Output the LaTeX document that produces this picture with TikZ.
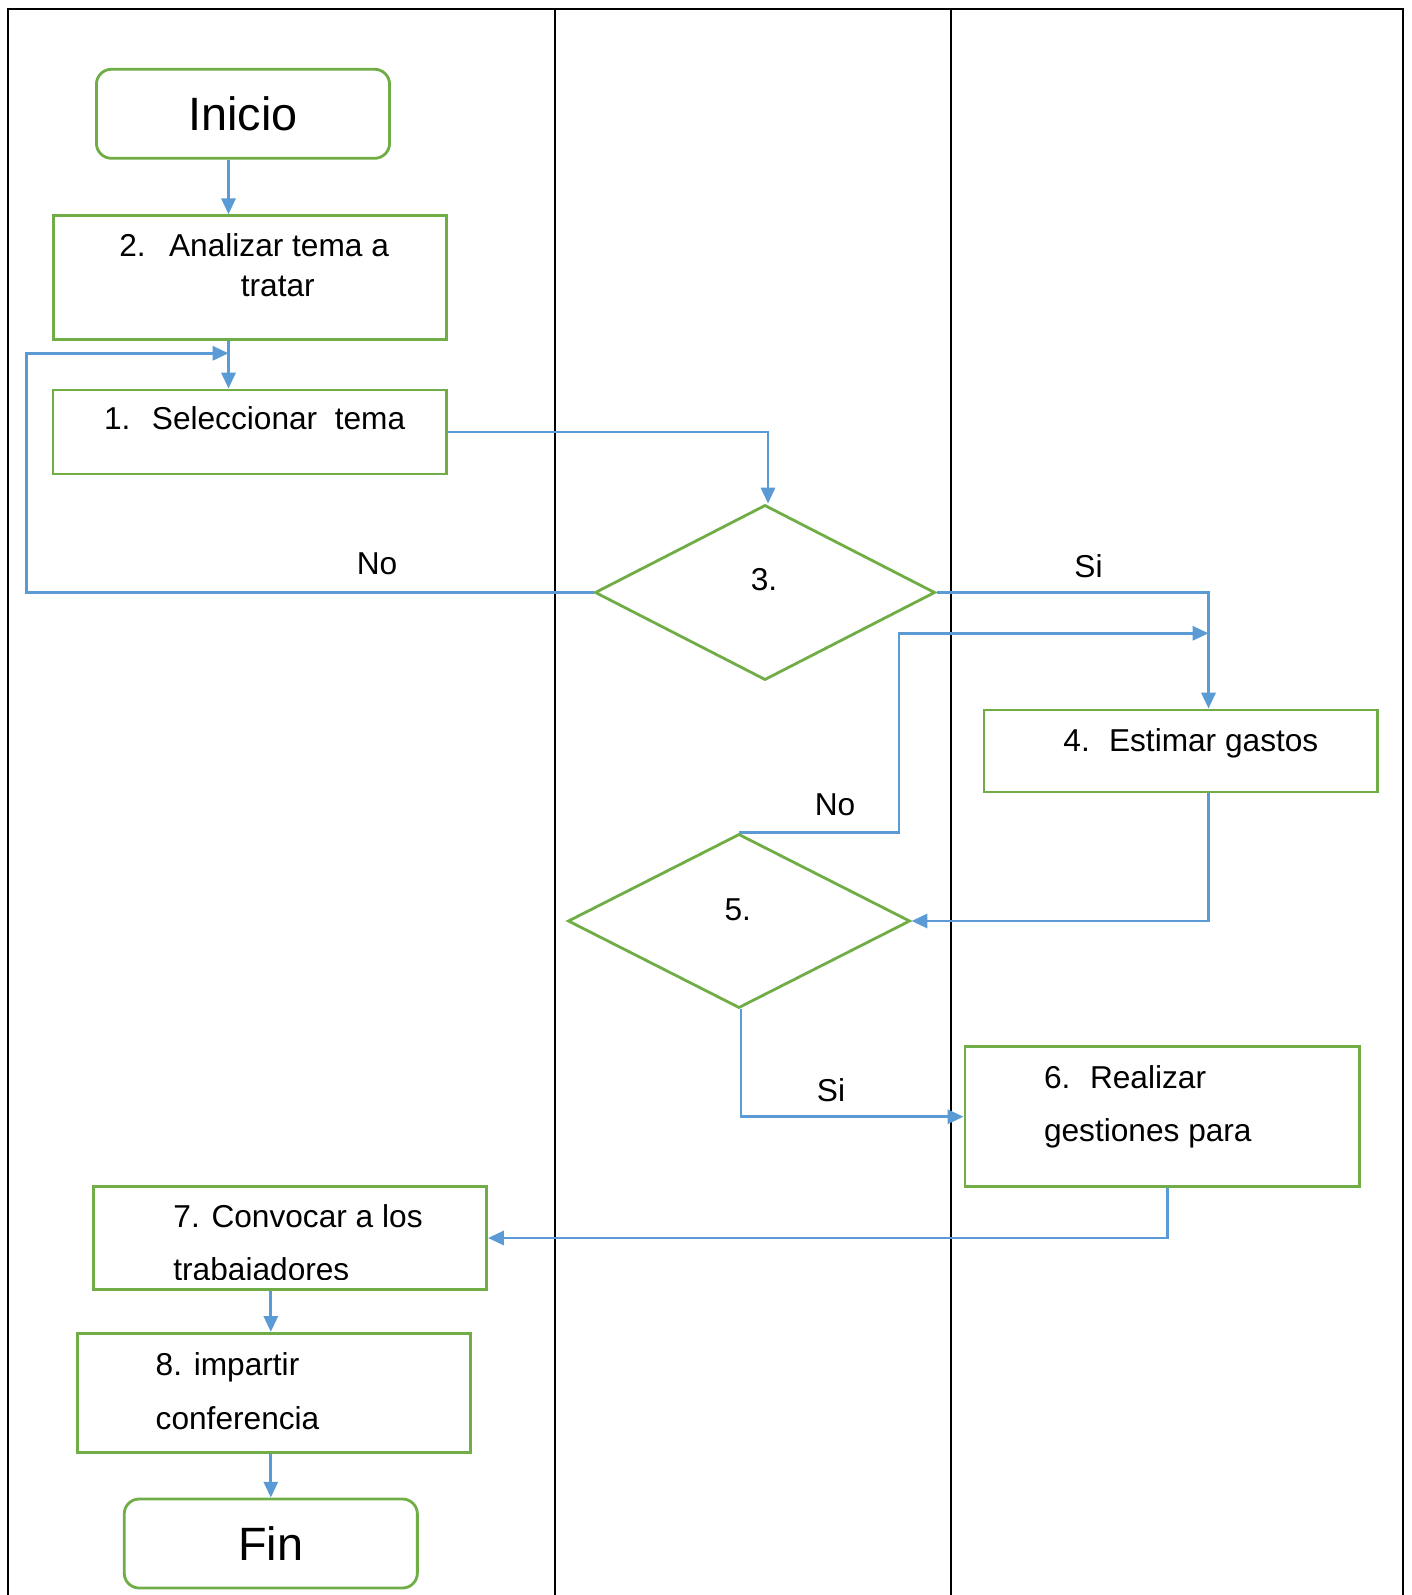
\documentclass[tikz,border=0pt]{standalone}
\usepackage{fontspec}
\setmainfont{Liberation Sans}
\usepackage{tikz}
\usetikzlibrary{arrows.meta, shapes.geometric}
\usepackage{xcolor}
\definecolor{boxgreen}{RGB}{112,173,71}
\definecolor{linkblue}{RGB}{91,155,213}

\tikzset{
  lane/.style={black, line width=0.7pt},
  stepbox/.style={draw=boxgreen, line width=0.8pt, rectangle, inner sep=0pt, minimum width=3.93cm},
  endbox/.style={stepbox, rounded corners=1.5mm, minimum width=2.93cm, minimum height=0.89cm, font=\fontsize{13.3}{16}\selectfont},
  decision/.style={draw=boxgreen, line width=0.8pt, diamond, inner sep=0pt},
  link/.style={draw=linkblue, line width=0.8pt, -{Triangle[length=4.5pt, width=4pt]}},
  txt/.style={inner sep=0pt, font=\fontsize{9}{11}\selectfont},
}

\begin{document}
\begin{tikzpicture}[x=0.01cm, y=-0.01cm]
  \useasboundingbox (0,0) rectangle (1411,1595);
  % swimlanes
  \draw[lane] (8,1596) -- (8,9) -- (1403,9) -- (1403,1596);
  \draw[lane] (555,9) -- (555,1596);
  \draw[lane] (951,9) -- (951,1596);

  % boxes and decisions
  \node[endbox] (inicio) at (243,113.8) {Inicio};
  \node[stepbox, minimum height=1.236cm] (analizar) at (250,277.5) {};
  \node[stepbox, minimum height=0.84cm] (seleccionar) at (249.7,432) {};
  \node[decision, minimum width=3.4cm, minimum height=1.75cm] (d3) at (765,592.5) {};
  \node[stepbox, minimum height=0.82cm] (estimar) at (1180.5,751) {};
  \node[decision, minimum width=3.42cm, minimum height=1.74cm] (d5) at (739,921) {};
  \node[stepbox, minimum width=3.94cm, minimum height=1.40cm] (gestiones) at (1162,1116.7) {};
  \node[stepbox, minimum height=1.026cm] (convocar) at (290,1238) {};
  \node[stepbox, minimum height=1.194cm] (impartir) at (274.2,1393) {};
  \node[endbox] (fin) at (270.8,1543.5) {Fin};

  % texts
  \node[txt, anchor=base west] (n2) at (118.6,256.7) {2.};
  \node[txt, anchor=base west] (t2a) at (168.4,256.7) {Analizar tema a};
  \node[txt, anchor=base] (t2b) at (277.8,296.7) {tratar};
  \node[txt, anchor=base west] (n1) at (103.3,430) {1.};
  \node[txt, anchor=base west] (t1) at (151.2,430) {Seleccionar\ \ tema};
  \node[txt] (t3) at (764,580) {3.};
  \node[txt, anchor=base west] (n4) at (1062.7,751.7) {4.};
  \node[txt, anchor=base west] (t4) at (1108.3,751.7) {Estimar gastos};
  \node[txt] (t5) at (737.7,910) {5.};
  \node[txt, anchor=base west] (n6) at (1043.3,1088) {6.};
  \node[txt, anchor=base west] (t6a) at (1089.3,1088) {Realizar};
  \node[txt, anchor=base west] (t6b) at (1043.3,1141.7) {gestiones para};
  \node[txt, anchor=base west] (t7a) at (172.7,1227.3) {7. Convocar a los};
  \begin{scope}
    \clip (93,1187) rectangle (487,1279.5);
    \node[txt, anchor=base west] (t7b) at (172.7,1280) {trabajadores};
  \end{scope}
  \node[txt, anchor=base west] (t8a) at (155,1375) {8. impartir};
  \node[txt, anchor=base west] (t8b) at (155,1429.3) {conferencia};

  % branch labels
  \node[txt] (no3) at (377,563.5) {No};
  \node[txt] (si3) at (1088.5,566.6) {Si};
  \node[txt] (no5) at (835,805) {No};
  \node[txt] (si5) at (831,1090.5) {Si};

  % connectors
  \coordinate (lanel) at (228.5,353.3);
  \coordinate (backl) at (26.8,353.3);
  \coordinate (laner) at (1208.5,633.3);
  \coordinate (backr) at (899,633.3);
  \draw[link] (inicio.south -| lanel) -- (analizar.north -| lanel);
  \draw[link] (analizar.south -| lanel) -- (seleccionar.north -| lanel);
  \draw[link] (d3.west) -| (backl) -- (lanel);
  \draw[link] (seleccionar.east) -| ([xshift=0.03cm]d3.north);
  \draw[link] (d3.east) -| (estimar.north -| laner);
  \draw[link] (estimar.south -| laner) |- (d5.east);
  \draw[link] (d5.north) -| (backr) -- (laner);
  \draw[link] ([xshift=0.02cm]d5.south) |- (gestiones.west);
  \draw[link] ([xshift=0.053cm]gestiones.south) |- (convocar.east);
  \draw[link] (convocar.south -| fin.north) -- (impartir.north -| fin.north);
  \draw[link] (impartir.south -| fin.north) -- (fin.north);
\end{tikzpicture}
\end{document}
